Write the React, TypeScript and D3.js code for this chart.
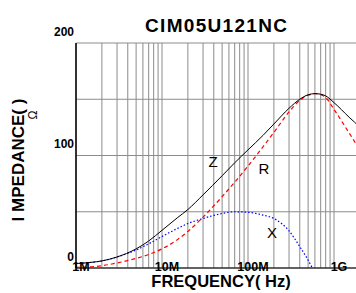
import React from "react";
import * as d3 from "d3";

// Frequencies in MHz
const freqZ = [1, 1.5, 2, 3, 5, 7, 10, 15, 20, 30, 50, 70, 100, 150, 200, 300, 400, 500, 600, 700, 800, 1000, 1500, 2000, 3000];
const valZ = [4, 5, 6.3, 9.8, 17, 24, 33.5, 44.5, 52, 65, 82, 93.5, 105, 118, 128, 142, 150, 154, 155, 154.5, 153, 147, 134, 125, 108];
const freqR = [1, 1.5, 2, 3, 5, 7, 10, 15, 20, 30, 50, 70, 100, 150, 200, 300, 400, 500, 600, 700, 800, 1000, 1500, 2000, 3000];
const valR = [0.5, 1, 2, 4.5, 8.5, 12, 17, 25, 32.5, 45.2, 63.4, 76.2, 90.6, 107.9, 120.6, 138.7, 149, 153.5, 155, 154, 151.5, 141, 120, 105, 85];
const freqX = [1, 1.5, 2, 3, 5, 7, 10, 15, 20, 30, 50, 70, 100, 150, 200, 300, 400, 500, 560];
const valX = [4, 5, 6.3, 9.8, 16, 21.5, 28, 35, 39.5, 44, 48.5, 50, 49.5, 47, 44, 33, 19, 7, 0];

const yTicks = [0, 100, 200];
const yGrid = [0, 50, 100, 150, 200];
const xTickVals = [1, 10, 100, 1000];
const xTickLabels = ["1M", "10M", "100M", "1G"];
const title = "CIM05U121NC";

const W = 356;
const H = 293;
const left = 76;
const top = 43;
const bottom = 268;

export default function App() {
  const x = d3.scaleLog().domain([1, 3000]).range([left, left + 86 * Math.log10(3000)]);
  const y = d3.scaleLinear().domain([0, 200]).range([bottom, top]);
  const right = W;

  const gridX: number[] = [];
  for (let dec = 1; dec <= 1000; dec *= 10) {
    for (let k = 1; k <= 9; k++) {
      const f = dec * k;
      if (x(f) <= right + 1) gridX.push(f);
    }
  }

  const mk = (fs: number[], vs: number[]) =>
    d3
      .line<number>()
      .x((_, i) => x(fs[i]))
      .y((d) => y(d))
      .curve(d3.curveMonotoneX)(vs) || "";

  return (
    <svg
      width={W}
      height={H}
      style={{ position: "absolute", left: 0, top: 0, background: "#fff" }}
      fontFamily="Arial, 'Liberation Sans', sans-serif"
    >
      <defs>
        <clipPath id="plot">
          <rect x={left} y={top - 2} width={right - left} height={bottom - top + 2} />
        </clipPath>
      </defs>
      {/* grid */}
      {gridX.map((f, i) => (
        <line key={"gx" + i} x1={x(f)} x2={x(f)} y1={top} y2={bottom} stroke="#8c8c8c" strokeWidth={1} />
      ))}
      {yGrid.map((v, i) => (
        <line key={"gy" + i} x1={left} x2={right} y1={y(v)} y2={y(v)} stroke="#8c8c8c" strokeWidth={1} />
      ))}
      {/* axes */}
      <line x1={left} x2={left} y1={top} y2={bottom} stroke="#000" strokeWidth={1.5} />
      <line x1={left} x2={right} y1={bottom} y2={bottom} stroke="#000" strokeWidth={1} />
      {/* curves */}
      <g clipPath="url(#plot)" fill="none">
        <path d={mk(freqX, valX)} stroke="#0000ff" strokeWidth={1.2} strokeDasharray="1.5,2" />
        <path d={mk(freqR, valR)} stroke="#ff0000" strokeWidth={1.2} strokeDasharray="4,3" />
        <path d={mk(freqZ, valZ)} stroke="#000" strokeWidth={1} />
      </g>
      {/* title */}
      <text x={216} y={32} textAnchor="middle" fontWeight="bold" fontSize={19} textLength={142} lengthAdjust="spacing">
        {title}
      </text>
      {/* y ticks */}
      {yTicks.map((v, i) => (
        <text key={"yt" + i} x={74} y={y(v) - 7.5} textAnchor="end" fontWeight="bold" fontSize={12}>
          {v}
        </text>
      ))}
      {/* x ticks */}
      {xTickVals.map((f, i) => (
        <text key={"xt" + i} x={x(f) + 5} y={270.5} textAnchor="middle" fontWeight="bold" fontSize={12.5}>
          {xTickLabels[i]}
        </text>
      ))}
      {/* axis titles */}
      <text x={221} y={286.5} textAnchor="middle" fontWeight="bold" fontSize={16.5}>
        FREQUENCY( Hz)
      </text>
      <text transform="translate(24,160) rotate(-90)" textAnchor="middle" fontWeight="bold" fontSize={17}>
        I MPEDANCE( )
      </text>
      <text transform="translate(37,115) rotate(-90)" textAnchor="middle" fontSize={12}>
        Ω
      </text>
      {/* curve labels */}
      <text x={213} y={167} textAnchor="middle" fontSize={15}>Z</text>
      <text x={264} y={174} textAnchor="middle" fontSize={15}>R</text>
      <text x={272} y={238} textAnchor="middle" fontSize={15}>X</text>
    </svg>
  );
}
